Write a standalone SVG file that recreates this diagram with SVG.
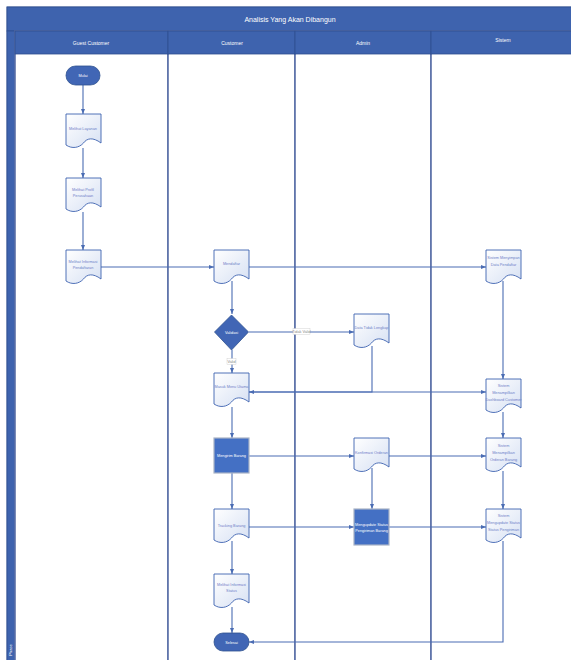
<svg xmlns="http://www.w3.org/2000/svg" width="571" height="660" viewBox="0 0 571 660">
<style>
.lane{fill:#ffffff;stroke:#5a70a8;stroke-width:1.6}
.hdr{fill:#3e63ae;stroke:#2f4f8f;stroke-width:0.8}
.ht{font-family:"Liberation Sans",Arial,sans-serif;fill:#ffffff;text-anchor:middle}
.doc{fill:url(#g);stroke:#3d62b0;stroke-width:0.9}
.blk{fill:#4470c4;stroke:#a9b3c6;stroke-width:1.2}
.term{fill:#4166b5;stroke:#2f528f;stroke-width:0.8}
.t{font-family:"Liberation Sans",Arial,sans-serif;font-size:3.8px;fill:#6e7fc8;text-anchor:middle}
.tw{font-family:"Liberation Sans",Arial,sans-serif;font-size:3.8px;fill:#ffffff;text-anchor:middle}
.c{fill:none;stroke:#4a6cb3;stroke-width:1.1}
.lbl{fill:#ffffff;stroke:#c9c9c9;stroke-width:0.4}
.g{fill:#8a8a8a}
</style>
<defs>
<linearGradient id="g" x1="0" y1="0" x2="1" y2="1">
<stop offset="0" stop-color="#ffffff"/>
<stop offset="1" stop-color="#d6e0f3"/>
</linearGradient>
<marker id="a" viewBox="0 0 10 10" refX="10" refY="5" markerWidth="5" markerHeight="5" orient="auto" markerUnits="userSpaceOnUse">
<path d="M0,1 L10,5 L0,9 Z" fill="#4a6cb3"/>
</marker>
<path id="d" d="M0,0 H35 V29 C27,23 21,24 17.5,29 C13,34 6,35 0,31 Z"/>
</defs>

<g id="pool">
<rect x="7" y="7" width="570" height="660" fill="#ffffff" stroke="#2f4f8f" stroke-width="0.8"/>
<rect class="hdr" x="7" y="7" width="570" height="24"/>
<text class="ht" x="290" y="22" font-size="7">Analisis Yang Akan Dibangun</text>
<rect class="hdr" x="7" y="31" width="8" height="636"/>
<text class="ht" x="12" y="650" font-size="4" transform="rotate(-90 12 650)">Phase</text>
<rect class="lane" x="15" y="31" width="153" height="640"/>
<rect class="lane" x="168" y="31" width="127" height="640"/>
<rect class="lane" x="295" y="31" width="136" height="640"/>
<rect class="lane" x="431" y="31" width="150" height="640"/>
<rect class="hdr" x="15" y="31" width="153" height="23"/>
<rect class="hdr" x="168" y="31" width="127" height="23"/>
<rect class="hdr" x="295" y="31" width="136" height="23"/>
<rect class="hdr" x="431" y="31" width="150" height="23"/>
<text class="ht" x="91" y="45" font-size="5">Guest Customer</text>
<text class="ht" x="232" y="45" font-size="5">Customer</text>
<text class="ht" x="363" y="45" font-size="5">Admin</text>
<text class="ht" x="503" y="42" font-size="5">Sistem</text>
</g>

<g id="connectors">
<path class="c" d="M83,85 V114" marker-end="url(#a)"/>
<path class="c" d="M83,148 V178" marker-end="url(#a)"/>
<path class="c" d="M83,212 V250" marker-end="url(#a)"/>
<path class="c" d="M100,267 H214" marker-end="url(#a)"/>
<path class="c" d="M249,267 H486" marker-end="url(#a)"/>
<path class="c" d="M232,281 V314" marker-end="url(#a)"/>
<path class="c" d="M249,332 H354" marker-end="url(#a)"/>
<rect class="lbl" x="293" y="328.5" width="17" height="6"/>
<text class="t g" x="301.5" y="333">Tidak Valid</text>
<path class="c" d="M232,350 V373" marker-end="url(#a)"/>
<rect class="lbl" x="227" y="358.5" width="9" height="6"/>
<text class="t g" x="231.5" y="363">Valid</text>
<path class="c" d="M372,346 V392 H249" marker-end="url(#a)"/>
<path class="c" d="M249,392 H486" marker-end="url(#a)"/>
<path class="c" d="M503,281 V379" marker-end="url(#a)"/>
<path class="c" d="M232,407 V438" marker-end="url(#a)"/>
<path class="c" d="M249,456 H354" marker-end="url(#a)"/>
<path class="c" d="M389,456 H486" marker-end="url(#a)"/>
<path class="c" d="M503,412 V438" marker-end="url(#a)"/>
<path class="c" d="M372,468 V509" marker-end="url(#a)"/>
<path class="c" d="M503,471 V509" marker-end="url(#a)"/>
<path class="c" d="M232,473 V509" marker-end="url(#a)"/>
<path class="c" d="M249,527 H354" marker-end="url(#a)"/>
<path class="c" d="M389,527 H486" marker-end="url(#a)"/>
<path class="c" d="M232,541 V574" marker-end="url(#a)"/>
<path class="c" d="M232,607 V633" marker-end="url(#a)"/>
<path class="c" d="M503,541 V642 H249" marker-end="url(#a)"/>
</g>

<g id="mulai">
<rect class="term" x="66" y="66" width="34" height="19" rx="9.5"/>
<text class="tw" x="83" y="77">Mulai</text>
</g>
<g id="melihat-layanan">
<use href="#d" class="doc" x="66" y="114"/>
<text class="t" x="83" y="130">Melihat Layanan</text>
</g>
<g id="melihat-profil">
<use href="#d" class="doc" x="66" y="178"/>
<text class="t" x="83" y="191">Melihat Profil</text>
<text class="t" x="83" y="197">Perusahaan</text>
</g>
<g id="melihat-informasi-pendaftaran">
<use href="#d" class="doc" x="66" y="250"/>
<text class="t" x="83" y="263">Melihat Informasi</text>
<text class="t" x="83" y="269">Pendaftaran</text>
</g>
<g id="mendaftar">
<use href="#d" class="doc" x="214" y="250"/>
<text class="t" x="231.5" y="265">Mendaftar</text>
</g>
<g id="validasi">
<path d="M231.5,315 L248.5,332 L231.5,350 L214.5,332 Z" fill="#4166b5" stroke="#2f528f" stroke-width="0.8"/>
<text class="tw" x="231.5" y="334">Validasi</text>
</g>
<g id="data-tidak-lengkap">
<use href="#d" class="doc" x="354" y="314"/>
<text class="t" x="371.5" y="329">Data Tidak Lengkap</text>
</g>
<g id="sistem-menyimpan">
<use href="#d" class="doc" x="486" y="250"/>
<text class="t" x="503.5" y="259">Sistem Menyimpan</text>
<text class="t" x="503.5" y="266">Data Pendaftar</text>
</g>
<g id="masuk-menu-utama">
<use href="#d" class="doc" x="214" y="373"/>
<text class="t" x="231.5" y="388">Masuk Menu Utama</text>
</g>
<g id="sistem-dashboard">
<use href="#d" class="doc" x="486" y="379"/>
<text class="t" x="503.5" y="387">Sistem</text>
<text class="t" x="503.5" y="394">Menampilkan</text>
<text class="t" x="503.5" y="401">Dashboard Customer</text>
</g>
<g id="mengirim-barang">
<rect class="blk" x="214" y="438" width="35" height="35"/>
<text class="tw" x="231.5" y="457">Mengirim Barang</text>
</g>
<g id="konfirmasi-orderan">
<use href="#d" class="doc" x="354" y="438"/>
<text class="t" x="371.5" y="454">Konfirmasi Orderan</text>
</g>
<g id="sistem-orderan">
<use href="#d" class="doc" x="486" y="438"/>
<text class="t" x="503.5" y="447">Sistem</text>
<text class="t" x="503.5" y="454">Menampilkan</text>
<text class="t" x="503.5" y="461">Orderan Barang</text>
</g>
<g id="tracking-barang">
<use href="#d" class="doc" x="214" y="509"/>
<text class="t" x="231.5" y="527">Tracking Barang</text>
</g>
<g id="mengupdate-status">
<rect class="blk" x="354" y="509" width="35" height="36"/>
<text class="tw" x="371.5" y="526">Mengupdate Status</text>
<text class="tw" x="371.5" y="532">Pengiriman Barang</text>
</g>
<g id="sistem-mengupdate">
<use href="#d" class="doc" x="486" y="509"/>
<text class="t" x="503.5" y="517">Sistem</text>
<text class="t" x="503.5" y="524">Mengupdate Status</text>
<text class="t" x="503.5" y="531">Status Pengiriman</text>
</g>
<g id="melihat-informasi-status">
<use href="#d" class="doc" x="214" y="574"/>
<text class="t" x="231.5" y="586">Melihat Informasi</text>
<text class="t" x="231.5" y="592">Status</text>
</g>
<g id="selesai">
<rect class="term" x="214" y="633" width="35" height="18" rx="9"/>
<text class="tw" x="231.5" y="643.5">Selesai</text>
</g>
</svg>
